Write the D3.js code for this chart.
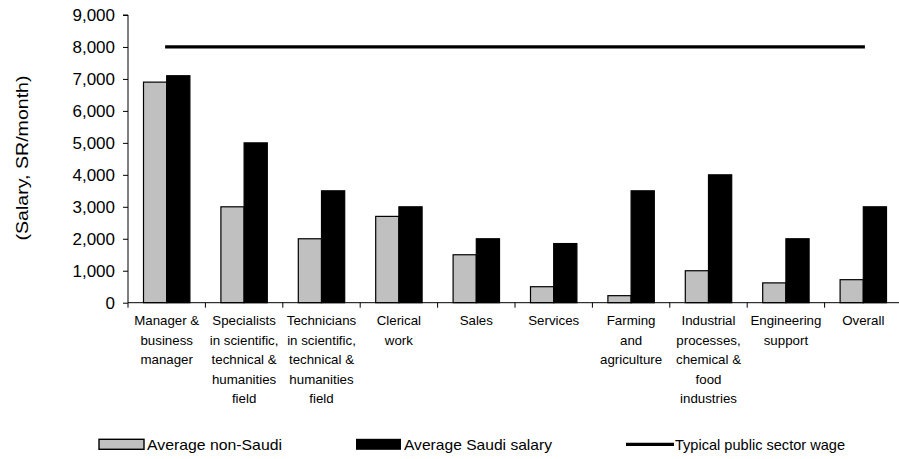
<!DOCTYPE html>
<html>
<head>
<meta charset="utf-8">
<script src="https://cdn.jsdelivr.net/npm/d3@7"></script>
<style>
  html, body { margin: 0; padding: 0; background: #fff; }
  svg { display: block; font-family: "Liberation Sans", Arial, sans-serif; }
</style>
</head>
<body>
<svg id="chart" width="899" height="459"></svg>
<script>
const categories = [
  ["Manager &", "business", "manager"],
  ["Specialists", "in scientific,", "technical &", "humanities", "field"],
  ["Technicians", "in scientific,", "technical &", "humanities", "field"],
  ["Clerical", "work"],
  ["Sales"],
  ["Services"],
  ["Farming", "and", "agriculture"],
  ["Industrial", "processes,", "chemical &", "food", "industries"],
  ["Engineering", "support"],
  ["Overall"]
];
const nonSaudi = [6900, 3000, 2000, 2700, 1500, 500, 220, 1000, 620, 720];
const saudi = [7100, 5000, 3500, 3000, 2000, 1850, 3500, 4000, 2000, 3000];
const publicWage = 8000;
const yTicks = [0, 1000, 2000, 3000, 4000, 5000, 6000, 7000, 8000, 9000];
const seriesNames = ["Average non-Saudi", "Average Saudi salary", "Typical public sector wage"];

const svg = d3.select("#chart");
const mLeft = 128, mRight = 902, mTop = 15, mBottom = 302.7;

const x = d3.scaleBand().domain(d3.range(categories.length)).range([mLeft, mRight]).paddingInner(0).paddingOuter(0);
const y = d3.scaleLinear().domain([0, 9000]).range([mBottom, mTop]);

const groupPad = 15.5;
const bw = (x.bandwidth() - 2 * groupPad) / 2;

// bars
const g = svg.append("g");
g.selectAll("rect.ns").data(nonSaudi).enter().append("rect")
  .attr("class", "ns")
  .attr("x", (d, i) => x(i) + groupPad)
  .attr("y", d => y(d))
  .attr("width", bw)
  .attr("height", d => mBottom - y(d))
  .attr("fill", "#c0c0c0").attr("stroke", "#000").attr("stroke-width", 1.2);
g.selectAll("rect.sa").data(saudi).enter().append("rect")
  .attr("class", "sa")
  .attr("x", (d, i) => x(i) + groupPad + bw)
  .attr("y", d => y(d))
  .attr("width", bw)
  .attr("height", d => mBottom - y(d))
  .attr("fill", "#000").attr("stroke", "#000").attr("stroke-width", 1.2);

// public wage line
svg.append("line")
  .attr("x1", x(0) + x.bandwidth() / 2)
  .attr("x2", x(categories.length - 1) + x.bandwidth() / 2)
  .attr("y1", y(publicWage)).attr("y2", y(publicWage))
  .attr("stroke", "#000").attr("stroke-width", 3.2).attr("stroke-linecap", "square");

// y axis
const yAxis = d3.axisLeft(y).tickValues(yTicks).tickFormat(d3.format(",")).tickSize(5).tickPadding(8);
const ya = svg.append("g").attr("transform", `translate(${mLeft},0)`).call(yAxis);
ya.select(".domain").attr("stroke", "#000").attr("d", `M-5,${mTop}H0V${mBottom}`);
ya.selectAll(".tick line").attr("stroke", "#000");
ya.selectAll(".tick text").attr("font-size", 17).attr("fill", "#000")
  .attr("font-family", "Liberation Sans, Arial, sans-serif");

// x axis
const xa = svg.append("g").attr("transform", `translate(0,${mBottom})`);
xa.append("line").attr("x1", mLeft).attr("x2", mRight).attr("y1", 0).attr("y2", 0).attr("stroke", "#000");
xa.selectAll("line.tk").data(d3.range(categories.length + 1)).enter().append("line")
  .attr("class", "tk")
  .attr("x1", i => mLeft + i * x.step()).attr("x2", i => mLeft + i * x.step())
  .attr("y1", 0).attr("y2", 5).attr("stroke", "#000");

const labels = svg.append("g");
categories.forEach((lines, i) => {
  const t = labels.append("text")
    .attr("x", x(i) + x.bandwidth() / 2)
    .attr("y", 325)
    .attr("text-anchor", "middle")
    .attr("font-size", 13.3)
    .attr("fill", "#000");
  lines.forEach((ln, j) => {
    t.append("tspan").attr("x", x(i) + x.bandwidth() / 2).attr("dy", j === 0 ? 0 : 19.5).text(ln);
  });
});

// y axis title
svg.append("text")
  .attr("transform", "translate(28,158) rotate(-90)")
  .attr("text-anchor", "middle")
  .attr("font-size", 17)
  .attr("textLength", 165).attr("lengthAdjust", "spacingAndGlyphs")
  .attr("fill", "#000")
  .text("(Salary, SR/month)");

// legend
const ly = 444.3;
const leg = svg.append("g").attr("font-size", 15).attr("fill", "#000");
leg.append("rect").attr("x", 99).attr("y", ly - 5).attr("width", 45).attr("height", 10)
  .attr("fill", "#c0c0c0").attr("stroke", "#000").attr("stroke-width", 1.4);
leg.append("text").attr("x", 147).attr("y", ly + 5.5)
  .attr("textLength", 135).attr("lengthAdjust", "spacingAndGlyphs").text(seriesNames[0]);
leg.append("rect").attr("x", 356).attr("y", ly - 5.5).attr("width", 45).attr("height", 11)
  .attr("fill", "#000");
leg.append("text").attr("x", 404).attr("y", ly + 5.5)
  .attr("textLength", 148).attr("lengthAdjust", "spacingAndGlyphs").text(seriesNames[1]);
leg.append("line").attr("x1", 626).attr("x2", 674).attr("y1", ly).attr("y2", ly)
  .attr("stroke", "#000").attr("stroke-width", 3.2);
leg.append("text").attr("x", 675).attr("y", ly + 5.5)
  .attr("textLength", 170).attr("lengthAdjust", "spacingAndGlyphs").text(seriesNames[2]);
</script>
</body>
</html>
